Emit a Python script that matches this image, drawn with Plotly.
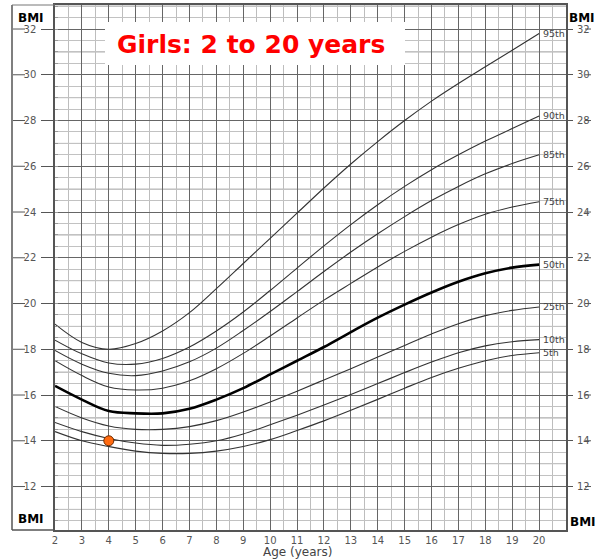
import plotly.graph_objects as go

ages = list(range(2, 21))
p5 = [14.4, 14.0, 13.75, 13.55, 13.45, 13.45, 13.55, 13.75, 14.05, 14.45, 14.87, 15.33, 15.81, 16.3, 16.77, 17.17, 17.5, 17.73, 17.85]
p10 = [14.8, 14.4, 14.1, 13.9, 13.8, 13.85, 14.0, 14.3, 14.7, 15.12, 15.56, 16.02, 16.5, 16.98, 17.44, 17.85, 18.15, 18.33, 18.42]
p25 = [15.5, 15.0, 14.65, 14.5, 14.5, 14.62, 14.88, 15.26, 15.7, 16.17, 16.66, 17.15, 17.66, 18.17, 18.67, 19.12, 19.47, 19.7, 19.85]
p50 = [16.4, 15.8, 15.3, 15.2, 15.2, 15.4, 15.8, 16.3, 16.9, 17.5, 18.1, 18.75, 19.38, 19.95, 20.48, 20.95, 21.32, 21.57, 21.7]
p75 = [17.5, 16.85, 16.35, 16.22, 16.3, 16.62, 17.15, 17.82, 18.58, 19.37, 20.15, 20.88, 21.6, 22.28, 22.9, 23.45, 23.9, 24.22, 24.45]
p85 = [17.95, 17.35, 16.95, 16.85, 17.05, 17.45, 18.05, 18.82, 19.65, 20.52, 21.4, 22.25, 23.05, 23.8, 24.5, 25.12, 25.67, 26.12, 26.5]
p90 = [18.4, 17.8, 17.4, 17.35, 17.6, 18.1, 18.8, 19.63, 20.57, 21.55, 22.52, 23.45, 24.32, 25.12, 25.85, 26.5, 27.1, 27.65, 28.2]
p95 = [19.1, 18.3, 18.0, 18.25, 18.8, 19.6, 20.65, 21.75, 22.85, 23.95, 25.05, 26.1, 27.08, 28.0, 28.85, 29.62, 30.35, 31.07, 31.8]

series = [("5th", p5), ("10th", p10), ("25th", p25), ("50th", p50),
          ("75th", p75), ("85th", p85), ("90th", p90), ("95th", p95)]

point_age = [4]
point_bmi = [14.0]

x_ticks = list(range(2, 21))
y_ticks = list(range(12, 33, 2))
odd_lines = list(range(11, 34, 2))

title_text = "Girls: 2 to 20 years"
x_title = "Age (years)"

W, H = 595, 559
L, R, T, B = 55, 29, 5, 29
pw, ph = W - L - R, H - T - B

def px_x(p):
    return (p - L) / pw

def px_y(p):
    return (H - B - p) / ph

fig = go.Figure()
for name, vals in series:
    fig.add_trace(go.Scatter(
        x=ages, y=vals, mode="lines", name=name,
        line=dict(color="#000000" if name == "50th" else "#333333",
                  width=2.6 if name == "50th" else 1.1,
                  shape="spline", smoothing=1.0),
        hoverinfo="skip", showlegend=False))

fig.add_trace(go.Scatter(
    x=point_age, y=point_bmi, mode="markers",
    marker=dict(size=10, color="#ff6a10", line=dict(color="#6b2a00", width=1)),
    showlegend=False))

# second y axis for right labels
fig.add_trace(go.Scatter(x=[2], y=[20], yaxis="y2", mode="markers",
                         marker=dict(opacity=0), showlegend=False, hoverinfo="skip"))

annotations = []
for name, vals in series:
    annotations.append(dict(x=20.06, y=vals[-1], xref="x", yref="y", text=name,
                            showarrow=False, xanchor="left", yanchor="middle",
                            font=dict(family="DejaVu Sans", size=9.5, color="#444444")))

annotations.append(dict(x=px_x(251), y=px_y(45), xref="paper", yref="paper",
                        text="<b>" + title_text + "</b>", showarrow=False,
                        xanchor="center", yanchor="middle",
                        font=dict(family="DejaVu Sans", size=25, color="#ff0000")))

for (cx, cy) in [(31, 18), (582, 18), (31, 519), (583, 522)]:
    annotations.append(dict(x=px_x(cx), y=px_y(cy), xref="paper", yref="paper",
                            text="<b>BMI</b>", showarrow=False,
                            xanchor="center", yanchor="middle",
                            font=dict(family="DejaVu Sans", size=12, color="#000000")))

annotations.append(dict(x=11, y=px_y(552), xref="x", yref="paper", text=x_title,
                        showarrow=False, xanchor="center", yanchor="middle",
                        font=dict(family="DejaVu Sans", size=12, color="#444444")))

shapes = []
for v in odd_lines:
    shapes.append(dict(type="line", xref="paper", yref="y", x0=0, x1=1, y0=v, y1=v,
                       line=dict(color="#9c9c9c", width=1), layer="below"))
for v in y_ticks:
    shapes.append(dict(type="line", xref="paper", yref="y", x0=px_x(13), x1=px_x(25),
                       y0=v, y1=v, line=dict(color="#555555", width=1)))
    shapes.append(dict(type="line", xref="paper", yref="y", x0=px_x(585), x1=px_x(591),
                       y0=v, y1=v, line=dict(color="#555555", width=1)))
# outer frame on the left
shapes.append(dict(type="line", xref="paper", yref="paper", x0=px_x(12), x1=px_x(12),
                   y0=0, y1=1, line=dict(color="#555555", width=1.5)))
shapes.append(dict(type="line", xref="paper", yref="paper", x0=px_x(12), x1=0,
                   y0=0, y1=0, line=dict(color="#555555", width=1.5)))
shapes.append(dict(type="line", xref="paper", yref="paper", x0=px_x(12), x1=0,
                   y0=1, y1=1, line=dict(color="#777777", width=1)))
# white title box
shapes.append(dict(type="rect", xref="paper", yref="paper",
                   x0=px_x(105), x1=px_x(405), y0=px_y(65), y1=px_y(22),
                   fillcolor="white", line=dict(width=0), layer="above"))

yr = [10.1, 33.05]
fig.update_layout(
    width=W, height=H, autosize=False,
    margin=dict(l=L, r=R, t=T, b=B, pad=0, autoexpand=False),
    paper_bgcolor="white", plot_bgcolor="white",
    showlegend=False,
    xaxis=dict(range=[2, 21], tickmode="array", tickvals=x_ticks,
               ticks="", showgrid=True, gridcolor="#666666", gridwidth=1.2,
               minor=dict(dtick=0.5, tick0=0, showgrid=True, gridcolor="#bdbdbd", gridwidth=1),
               showline=True, linecolor="#555555", linewidth=1.5, mirror=True,
               zeroline=False, automargin=False,
               tickfont=dict(family="DejaVu Sans", size=10, color="#555555")),
    yaxis=dict(range=yr, tickmode="array", tickvals=y_ticks,
               ticks="outside", ticklen=12, tickcolor="#555555", ticklabelstandoff=3,
               showgrid=True, gridcolor="#666666", gridwidth=1.2,
               minor=dict(dtick=0.5, tick0=0, showgrid=True, gridcolor="#c2c2c2", gridwidth=1,
                          ticks="inside", ticklen=3, tickcolor="#999999"),
               showline=True, linecolor="#555555", linewidth=1.5, mirror=True,
               zeroline=False, automargin=False,
               tickfont=dict(family="DejaVu Sans", size=10, color="#555555")),
    yaxis2=dict(range=yr, overlaying="y", side="right", tickmode="array", tickvals=y_ticks,
                ticks="outside", ticklen=6, tickcolor="#555555", ticklabelstandoff=2,
                showgrid=False, zeroline=False, showline=False, automargin=False,
                tickfont=dict(family="DejaVu Sans", size=10, color="#555555")),
    annotations=annotations,
    shapes=shapes,
)

fig.write_html("out.html", config={"displayModeBar": False},
               post_script="document.body.style.margin='0';")
